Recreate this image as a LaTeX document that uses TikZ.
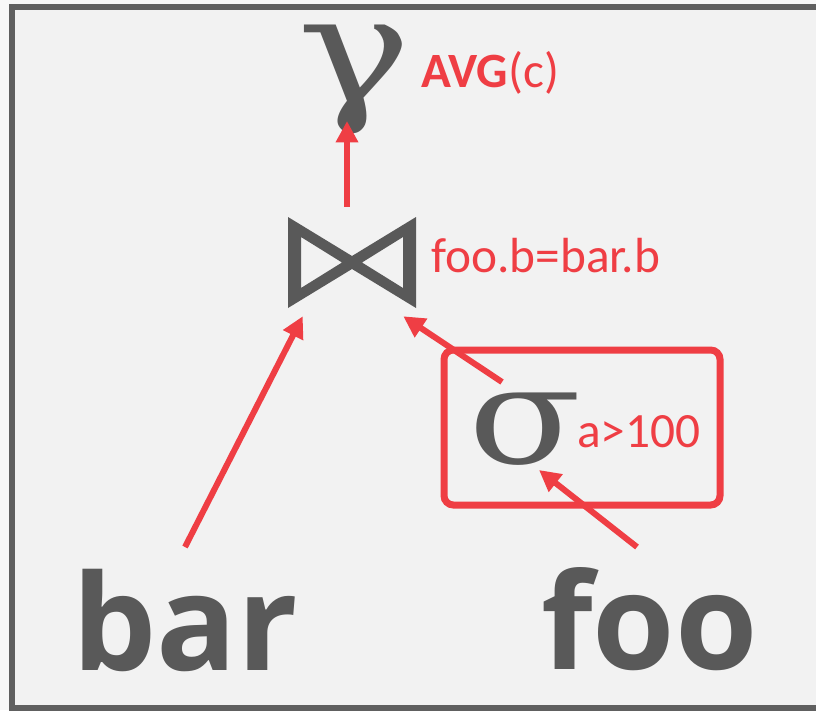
\documentclass[tikz,border=0pt]{standalone}
\usepackage{fontspec}
\setmainfont{Carlito}
\newfontfamily\opensans{Open Sans}
\newfontfamily\greekserif{DejaVu Serif}
\usetikzlibrary{arrows.meta,calc}
\definecolor{ink}{HTML}{595959}
\definecolor{accent}{HTML}{EF3E44}
\definecolor{panel}{HTML}{F2F2F2}
\definecolor{rim}{HTML}{606060}
\definecolor{paper}{HTML}{F8F8F8}

\begin{document}
\begin{tikzpicture}[x=0.75pt,y=-0.75pt,
  flow/.style={draw=accent, line width=4.5pt, -{Triangle[length=16pt,width=16pt]}},
  relname/.style={font=\opensans\bfseries\fontsize{100}{100}\selectfont, text=ink, inner sep=0pt, anchor=base west},
  opsym/.style={text=ink, inner sep=0pt, anchor=base, text height=0.6em, text depth=0.28em},
  cond/.style={text=accent, inner sep=0pt, anchor=base west, font=\fontsize{37}{37}\selectfont},
  selbox/.style={draw=accent, line width=5.25pt, rounded corners=7pt, minimum width=207pt, minimum height=116.25pt, inner sep=0pt}
]
\useasboundingbox (0,0) rectangle (816,710);
\fill[paper] (0,0) rectangle (816,710);
\draw[rim, line width=4.5pt, fill=panel] (12,7) rectangle (830,708);

% operators
\node[opsym, font=\greekserif\fontsize{112}{112}\selectfont] (agg) at (355,102) {\scalebox{1.28}[1]{γ}};
\node[minimum width=96pt, minimum height=68.25pt, inner sep=0pt] (join) at (352,262) {};
\path[fill=ink, even odd rule, shift={(join.center)}]
  (-64,-45) -- (0,-6) -- (64,-45) -- (64,46) -- (0,7) -- (-64,46) -- cycle
  (-51,-25) -- (-51,26) -- (-10,0.5) -- cycle
  (51,-25) -- (51,26) -- (10,0.5) -- cycle;
\node[selbox] (sel) at (582,427.5) {};
\node[opsym, font=\greekserif\fontsize{102}{102}\selectfont] (filt) at (525,463) {\scalebox{1.22}[1]{σ}};

% relations
\node[relname] (bar) at (72,670) {bar};
\node[relname] (foo) at (541,669) {foo};

% predicates
\node[cond] (avg) at (421,87) {\textbf{AVG}(c)};
\node[cond] (jcond) at (431,272) {foo.b=bar.b};
\node[cond] (scond) at (577,447) {a>100};

% data flow
\draw[flow] ([shift={(-5,-9.5)}]join.north) -- ([shift={(-8,19)}]agg.base);
\draw[flow] ([shift={(113,-123)}]bar.base west) -- ([shift={(15,8.5)}]join.south west);
\draw[flow] ([shift={(-23,-81)}]filt.base) -- ([shift={(-13,8.5)}]join.south east);
\draw[flow] ([shift={(96,-122)}]foo.base west) -- ([shift={(14,7)}]filt.base);
\end{tikzpicture}
\end{document}
